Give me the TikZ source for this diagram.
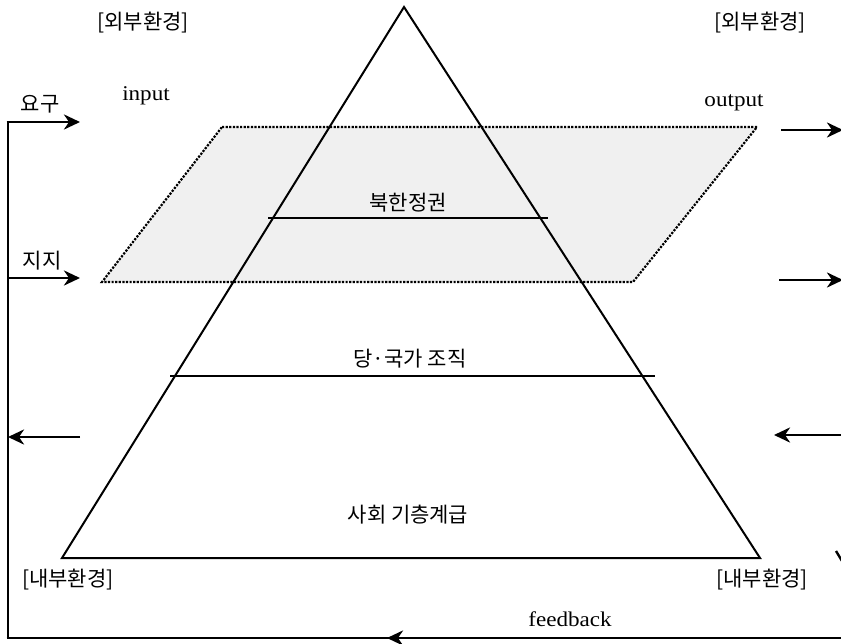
\documentclass[tikz,border=0pt]{standalone}
\usepackage{fontspec}
\setmainfont{Liberation Serif}
\newfontfamily\kr{Noto Sans CJK KR}
\newfontfamily\wideserif[FakeStretch=1.1]{Liberation Serif}
\usetikzlibrary{arrows.meta}
\begin{document}
\begin{tikzpicture}[x=1pt,y=-1pt,
  tri/.style={line width=2pt,line join=miter},
  arr/.style={line width=2.8pt,-{Stealth[length=16pt,width=15pt,inset=5pt]}},
  frame/.style={line width=2.8pt},
  lab/.style={font=\kr\fontsize{21}{23}\selectfont,inner sep=0pt},
  en/.style={font=\wideserif\fontsize{21}{23}\selectfont,inner sep=0pt,anchor=base}]
\useasboundingbox (0,0) rectangle (841,643);
% parallelogram
\coordinate (p1) at (222,127);
\coordinate (p2) at (757,127);
\coordinate (p3) at (633,282);
\coordinate (p4) at (102,282);
\fill[black!6] (p1)--(p2)--(p3)--(p4)--cycle;
\draw[line width=2.2pt,dash pattern=on 2.2pt off 1.4pt] (p1)--(p2)--(p3)--(p4)--cycle;
% triangle
\coordinate (apex) at (404,7);
\coordinate (bl) at (62,558);
\coordinate (br) at (760,558);
\draw[tri] (bl)--(apex)--(br)--cycle;
\coordinate (l1a) at (268,218); \coordinate (l1b) at (548,218);
\coordinate (l2a) at (170,376); \coordinate (l2b) at (655,376);
\draw[tri] (l1a)--(l1b);
\draw[tri] (l2a)--(l2b);
% labels
\node[lab] (t1) at (408,203) {북한정권};
\node[lab] (t2) at (410,359) {당·국가 조직};
\node[lab] (t3) at (408,515) {사회 기층계급};
\node[lab] (ex1) at (143,23) {[외부환경]};
\node[lab] (ex2) at (760,23) {[외부환경]};
\node[lab] (in1) at (68,580) {[내부환경]};
\node[lab] (in2) at (762,580) {[내부환경]};
\node[lab] (req) at (40,104) {요구};
\node[lab] (sup) at (42,261) {지지};
\node[en] (inp) at (146,100) {input};
\node[en] (outp) at (734,106) {output};
\node[en] (fb) at (570,626) {feedback};
% frame and arrows
\coordinate (c1) at (8,122);
\coordinate (c2) at (80,122);
\coordinate (c3) at (8,278);
\coordinate (c4) at (80,278);
\coordinate (c5) at (80,437);
\coordinate (c6) at (8,437);
\coordinate (c7) at (8,638);
\coordinate (c8) at (843,638);
\coordinate (c9) at (387,638);
\draw[frame,line join=miter] (c7)--(c1);
\draw[arr] ([xshift=-1.4pt]c1)--(c2);
\draw[arr] (c3)--(c4);
\draw[arr] (c5)--(c6);
\draw[frame] ([xshift=-1.4pt]c7)--(c8);
\draw[arr] (c8)--(c9);
\coordinate (r1) at (781,130); \coordinate (r1e) at (843,130);
\coordinate (r2) at (779,280); \coordinate (r2e) at (843,280);
\coordinate (r3) at (843,435); \coordinate (r3e) at (774,435);
\draw[arr] (r1)--(r1e);
\draw[arr] (r2)--(r2e);
\draw[arr] (r3)--(r3e);
\coordinate (m1) at (836,551); \coordinate (m2) at (845,566);
\draw[line width=2.4pt] (m1)--(m2);
\end{tikzpicture}
\end{document}
